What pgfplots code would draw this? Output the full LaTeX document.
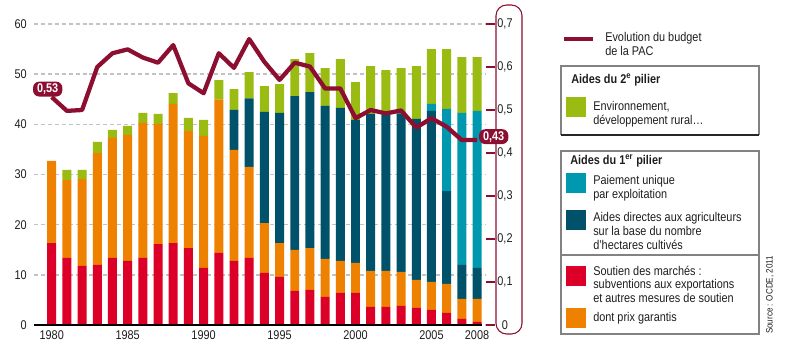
\documentclass[border=0pt]{standalone}
\usepackage{pgfplots}
\pgfplotsset{compat=1.18}
\usepackage{pgfplotstable}
\usepackage{fontspec}
\setmainfont{Liberation Sans}[FakeStretch=0.86]
\definecolor{cRed}{RGB}{220,0,40}
\definecolor{cOrange}{RGB}{238,130,0}
\definecolor{cDark}{RGB}{0,82,106}
\definecolor{cCyan}{RGB}{0,152,174}
\definecolor{cGreen}{RGB}{153,187,18}
\definecolor{cLine}{RGB}{140,14,48}
\definecolor{cText}{RGB}{30,30,30}
\definecolor{cGrid}{RGB}{195,195,195}
\definecolor{cBox}{RGB}{130,130,130}
\pgfplotstableread{
year red orange dark cyan green pac
1980 16.3 16.4 0 0 0 0.530
1981 13.4 15.5 0 0 2.0 0.498
1982 11.8 17.3 0 0 1.8 0.500
1983 12.0 22.3 0 0 2.2 0.600
1984 13.4 23.9 0 0 1.6 0.632
1985 12.8 25.1 0 0 1.8 0.641
1986 13.4 26.9 0 0 2.0 0.622
1987 16.1 24.0 0 0 2.0 0.610
1988 16.3 27.8 0 0 2.1 0.651
1989 15.3 23.4 0 0 2.6 0.562
1990 11.4 26.3 0 0 3.2 0.539
1991 14.4 30.6 0 0 3.8 0.632
1992 12.8 22.1 8.0 0 4.1 0.598
1993 13.4 18.1 13.7 0 5.2 0.665
1994 10.4 9.9 22.2 0 5.1 0.612
1995 9.6 6.7 26.0 0 5.7 0.570
1996 6.8 8.2 30.6 0 7.4 0.610
1997 7.0 8.3 31.1 0 7.8 0.601
1998 5.6 7.6 30.5 0 7.5 0.550
1999 6.4 6.4 30.5 0 9.7 0.550
2000 6.4 6.0 28.5 0 7.5 0.481
2001 3.6 7.2 31.3 0 9.5 0.500
2002 3.6 7.2 31.1 0 8.9 0.492
2003 3.8 6.8 31.6 0 9.0 0.499
2004 3.4 5.6 32.1 0 10.5 0.459
2005 3.0 5.6 34.1 1.4 10.9 0.481
2006 2.4 5.8 18.5 16.4 11.9 0.461
2007 1.2 4.0 6.8 30.3 11.1 0.430
2008 0.6 4.6 6.2 31.3 10.7 0.430
}\data
\begin{document}
\begin{tikzpicture}[x=0.75pt,y=0.75pt]
\useasboundingbox (-34,-32) rectangle (758,325);
\begin{axis}[
  at={(0,0)}, anchor=south west, scale only axis,
  width=339pt, height=225.75pt,
  xmin=1978.835, xmax=2008.59, ymin=0, ymax=60,
  ybar stacked, bar width=0.59,
  axis line style={draw=none},
  ytick={0,10,...,60},
  xtick={1980,1985,1990,1995,2000,2005,2008},
  major tick length=0pt,
  ymajorgrids,
  grid style={cGrid, dash pattern=on 3pt off 2.2pt, line width=1.1pt},
  /pgf/number format/assume math mode=true,
  /pgf/number format/1000 sep={},
  ticklabel style={font=\fontsize{9.5}{10}\selectfont, text=cText},
  yticklabel style={anchor=east, xshift=-2pt},
  xticklabel style={anchor=north, yshift=-0.5pt},
]
\addplot+[fill=cRed, draw=none] table[x=year, y=red]{\data};
\addplot+[fill=cOrange, draw=none] table[x=year, y=orange]{\data};
\addplot+[fill=cDark, draw=none] table[x=year, y=dark]{\data};
\addplot+[fill=cCyan, draw=none] table[x=year, y=cyan]{\data};
\addplot+[fill=cGreen, draw=none] table[x=year, y=green]{\data};
\end{axis}
\draw[black, line width=1pt] (0,0) -- (448,0);
% right axis rounded frame
\draw[cLine, line width=0.8pt, rounded corners=8pt] (462,-9) rectangle (488,320);
\begin{axis}[
  at={(0,0)}, anchor=south west, scale only axis,
  width=339pt, height=225.75pt,
  xmin=1978.835, xmax=2008.59, ymin=0, ymax=0.7,
  axis x line=none, axis y line*=right,
  y axis line style={draw=none},
  ytick={0,0.1,0.2,0.3,0.4,0.5,0.6,0.7},
  tick align=outside, major tick length=6.75pt,
  ytick style={cLine, line width=1.5pt},
  /pgf/number format/.cd, fixed, precision=1, use comma, assume math mode=true,
  /pgfplots/.cd,
  yticklabel style={font=\fontsize{9.5}{10}\selectfont, text=cText, anchor=center, xshift=7.5pt},
  clip=false,
]
\addplot[cLine, line width=3.2pt, line join=round] table[x=year, y=pac]{\data};
\node[fill=cLine, text=white, rounded corners=4.5pt, inner xsep=3pt, inner ysep=1.5pt, font=\fontsize{9.5}{10}\selectfont\bfseries] at (axis cs:1980,0.53) [xshift=-3pt, yshift=6pt] {0,53};
\node[fill=cLine, text=white, rounded corners=4.5pt, inner xsep=3pt, inner ysep=1.5pt, font=\fontsize{9.5}{10}\selectfont\bfseries] at (axis cs:2008,0.43) [xshift=12.5pt, yshift=2.6pt] {0,43};
\end{axis}
% legend
\begin{scope}[every node/.style={font=\fontsize{9.5}{10.2}\selectfont, text=cText, align=left, inner sep=0pt}]
\draw[cLine, line width=3pt] (530,286) -- (559,286);
\node[anchor=west] at (571,281) {Evolution du budget\\de la PAC};
\draw[cBox, line width=0.8pt] (527,190) -- (527,259) -- (725,259) -- (725,190);
\draw[black!85, line width=1pt] (527,190) -- (725,190);
\node[anchor=west, font=\fontsize{9.5}{10}\selectfont\bfseries] at (537,245) {Aides du 2\textsuperscript{e} pilier};
\fill[cGreen] (532,208) rectangle (552,228);
\node[anchor=west] at (559,210.5) {Environnement,\\développement rural…};
\draw[cBox, line width=0.8pt] (527,-9) rectangle (725,174);
\node[anchor=west, font=\fontsize{9.5}{10}\selectfont\bfseries] at (536,164) {Aides du 1\textsuperscript{er} pilier};
\fill[cCyan] (532,132) rectangle (552,152);
\node[anchor=west] at (559,136.5) {Paiement unique\\par exploitation};
\fill[cDark] (532,95) rectangle (552,115);
\node[anchor=west] at (559,94) {Aides directes aux agriculteurs\\sur la base du nombre\\d’hectares cultivés};
\draw[cBox, line width=0.8pt] (527,70) -- (725,70);
\fill[cRed] (532,39) rectangle (552,59);
\node[anchor=west] at (559,41) {Soutien des marchés :\\subventions aux exportations\\et autres mesures de soutien};
\fill[cOrange] (532,-3) rectangle (552,17);
\node[anchor=west] at (559,7) {dont prix garantis};
\node[rotate=90, font=\fontsize{7}{8}\selectfont] at (736,30) {Source : OCDE, 2011};
\end{scope}
\end{tikzpicture}
\end{document}
